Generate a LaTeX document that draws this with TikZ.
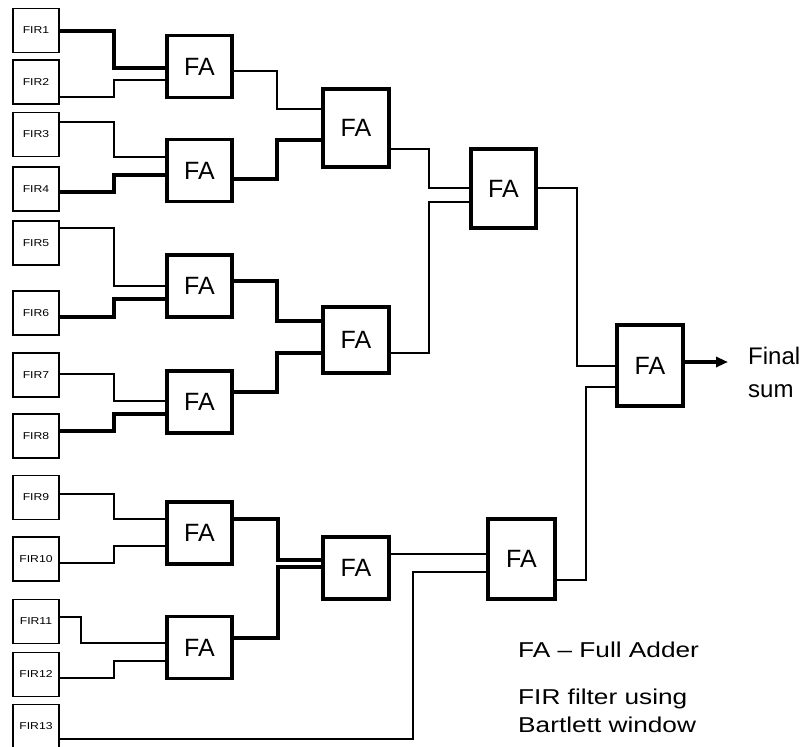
\documentclass[tikz,border=0pt]{standalone}
\usepackage{fontspec}
\setmainfont{Liberation Sans}
\newfontfamily\widefont[FakeStretch=1.22]{Liberation Sans}
\usetikzlibrary{arrows.meta}

\begin{document}
\begin{tikzpicture}[x=1pt,y=-1pt, fir/.style={draw,line width=1.4pt,inner sep=0pt,minimum width=46pt,minimum height=44pt,font=\widefont\fontsize{10}{11}\selectfont}, fa/.style={draw,line width=3.2pt,inner sep=0pt,minimum width=65pt,minimum height=62pt,font=\fontsize{25}{28}\selectfont}, w/.style={line width=1.3pt}, mw/.style={line width=2.4pt}, tw/.style={line width=3.8pt}, a/.style={-{Triangle[length=12pt,width=10pt]},line width=3.4pt}]
\useasboundingbox (0,0) rectangle (809,747);
\node[fir] (fir1) at (36,30.5) {FIR1};
\node[fir] (fir2) at (36,82) {FIR2};
\node[fir] (fir3) at (36,134.5) {FIR3};
\node[fir] (fir4) at (36,189) {FIR4};
\node[fir] (fir5) at (36,243) {FIR5};
\node[fir] (fir6) at (36,313) {FIR6};
\node[fir] (fir7) at (36,375) {FIR7};
\node[fir] (fir8) at (36,436) {FIR8};
\node[fir] (fir9) at (36,497.5) {FIR9};
\node[fir] (fir10) at (36,559) {FIR10};
\node[fir] (fir11) at (36,621.5) {FIR11};
\node[fir] (fir12) at (36,674.5) {FIR12};
\node[fir] (fir13) at (36,726.5) {FIR13};
\node[fa] (fa1) at (199.5,66.5) {FA};
\node[fa] (fa2) at (199.5,170.5) {FA};
\node[fa] (fa3) at (199.5,286) {FA};
\node[fa] (fa4) at (199.5,402) {FA};
\node[fa] (fa5) at (199.5,533) {FA};
\node[fa] (fa6) at (199.5,647.5) {FA};
\node[fa,minimum width=66pt,minimum height=78pt] (fb1) at (356,128) {FA};
\node[fa,minimum width=66pt,minimum height=66pt] (fb2) at (356,340) {FA};
\node[fa,minimum width=66pt] (fb3) at (356,568) {FA};
\node[fa,minimum height=79pt] (fc1) at (503.5,188.5) {FA};
\node[fa,minimum width=67pt,minimum height=80pt] (fc2) at (521.5,559) {FA};
\node[fa,minimum width=66pt,minimum height=81pt] (fd) at (650,365.5) {FA};
\node[anchor=north west,align=left,inner sep=0pt,font=\fontsize{24}{33}\selectfont] (sum) at (748,347) {Final\\sum};
\node[anchor=base west,inner sep=0pt,font=\widefont\fontsize{21.5}{28}\selectfont] (key) at (518,657) {FA – Full Adder};
\node[anchor=north west,align=left,inner sep=0pt,font=\widefont\fontsize{21.5}{28}\selectfont] (note) at (518,689) {FIR filter using\\Bartlett window};
\coordinate (out) at (728,362);
\draw[tw] (fir1.east |- 0,31) -| (114,68) -- (fa1.west |- 0,68);
\draw[w] (fir2.east |- 0,97) -| (114,80) -- (fa1.west |- 0,80);
\draw[mw] (fir3.east |- 0,122) -| (114,157) -- (fa2.west |- 0,157);
\draw[tw] (fir4.east |- 0,192) -| (114,175) -- (fa2.west |- 0,175);
\draw[w] (fir5.east |- 0,228) -| (114,286) -- (fa3.west |- 0,286);
\draw[tw] (fir6.east |- 0,317) -| (114,299) -- (fa3.west |- 0,299);
\draw[w] (fir7.east |- 0,374) -| (114,401) -- (fa4.west |- 0,401);
\draw[tw] (fir8.east |- 0,431) -| (114,414) -- (fa4.west |- 0,414);
\draw[mw] (fir9.east |- 0,494) -| (114,519) -- (fa5.west |- 0,519);
\draw[w] (fir10.east |- 0,563) -| (114,546) -- (fa5.west |- 0,546);
\draw[mw] (fir11.east |- 0,617) -| (81,643) -- (fa6.west |- 0,643);
\draw[w] (fir12.east |- 0,678) -| (114,661) -- (fa6.west |- 0,661);
\draw[mw] (fir13.east |- 0,739) -| (413,572) -- (fc2.west |- 0,572);
\draw[mw] (fa1.east |- 0,71) -| (277,109) -- (fb1.west |- 0,109);
\draw[tw] (fa2.east |- 0,179) -| (277,140) -- (fb1.west |- 0,140);
\draw[tw] (fa3.east |- 0,281) -| (277,321) -- (fb2.west |- 0,321);
\draw[tw] (fa4.east |- 0,392) -| (277,353) -- (fb2.west |- 0,353);
\draw[tw] (fa5.east |- 0,519) -| (278,560) -- (fb3.west |- 0,560);
\draw[tw] (fa6.east |- 0,638) -| (278,567) -- (fb3.west |- 0,567);
\draw[mw] (fb1.east |- 0,149) -| (429,188) -- (fc1.west |- 0,188);
\draw[mw] (fb2.east |- 0,353) -| (429,202) -- (fc1.west |- 0,202);
\draw[w] (fb3.east |- 0,554) -- (fc2.west |- 0,554);
\draw[w] (fc1.east |- 0,188) -| (577,366) -- (fd.west |- 0,366);
\draw[mw] (fc2.east |- 0,580) -| (586,387) -- (fd.west |- 0,387);
\draw[a] (fd.east |- out) -- (out);
\end{tikzpicture}
\end{document}
